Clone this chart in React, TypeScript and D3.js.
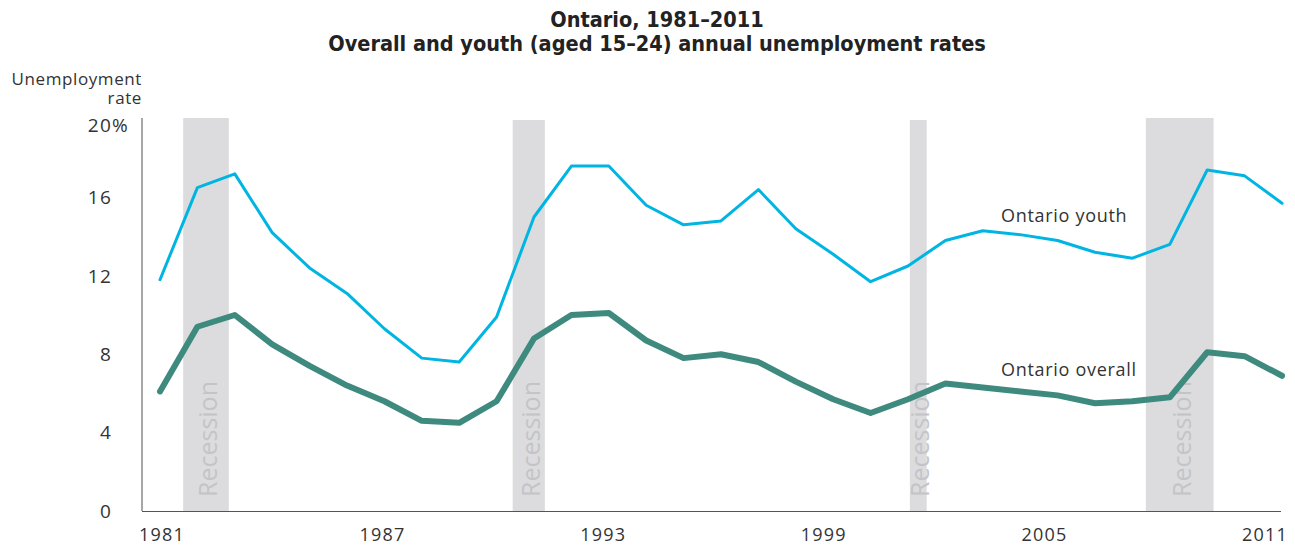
import React from "react";
import * as d3 from "d3";

const years = d3.range(1981, 2012);
const youthRates = [11.8, 16.5, 17.2, 14.2, 12.4, 11.1, 9.3, 7.8, 7.6, 9.9, 15.0, 17.6, 17.6, 15.6, 14.6, 14.8, 16.4, 14.4, 13.1, 11.7, 12.5, 13.8, 14.3, 14.1, 13.8, 13.2, 12.9, 13.6, 17.4, 17.1, 15.7];
const overallRates = [6.1, 9.4, 10.0, 8.5, 7.4, 6.4, 5.6, 4.6, 4.5, 5.6, 8.8, 10.0, 10.1, 8.7, 7.8, 8.0, 7.6, 6.6, 5.7, 5.0, 5.7, 6.5, 6.3, 6.1, 5.9, 5.5, 5.6, 5.8, 8.1, 7.9, 6.9];
const recessionStarts = [1981.62, 1990.43, 2001.05, 2007.36];
const recessionEnds = [1982.84, 1991.29, 2001.5, 2009.17];
const yTicks = [0, 4, 8, 12, 16, 20];
const xTicks = [1981, 1987, 1993, 1999, 2005, 2011];
const titleLines = ["Ontario, 1981–2011", "Overall and youth (aged 15–24) annual unemployment rates"];

const W = 1295;
const H = 546;
const FONT = "'Open Sans', 'Liberation Sans', sans-serif";
const TITLE_FONT = "'DejaVu Sans Condensed', 'DejaVu Sans', sans-serif";

export default function App() {
  const x = d3.scaleLinear().domain([1981, 2011]).range([160, 1282]);
  const xLabel = d3.scaleLinear().domain([1981, 2011]).range([162, 1265]);
  const y = d3.scaleLinear().domain([0, 20]).range([511, 119]);
  const line = d3
    .line<number>()
    .x((_, i) => x(years[i]))
    .y((d) => y(d));

  return (
    <div style={{ position: "absolute", left: 0, top: 0 }}>
      <svg width={W} height={H} style={{ display: "block", background: "#fff" }}>
        {/* title */}
        {titleLines.map((t, i) => (
          <text
            key={t}
            x={657}
            y={27 + i * 24}
            textAnchor="middle"
            fontFamily={TITLE_FONT}
            fontWeight={700}
            fontSize={21.5}
            fill="#222"
          >
            {t}
          </text>
        ))}
        {/* y axis title */}
        <text x={142} y={85} textAnchor="end" fontFamily={FONT} fontSize={17} letterSpacing={0.6} fill="#333">
          Unemployment
        </text>
        <text x={142} y={104} textAnchor="end" fontFamily={FONT} fontSize={17} letterSpacing={0.6} fill="#333">
          rate
        </text>

        {/* recession bands */}
        {recessionStarts.map((s, i) => {
          const x0 = x(s);
          const x1 = x(recessionEnds[i]);
          const cx = (x0 + x1) / 2;
          const top = i === 0 || i === 3 ? 118 : 120;
          return (
            <g key={s}>
              <rect x={x0} y={top} width={x1 - x0} height={y(0) - top} fill="#dcdcde" />
              <text
                transform={`translate(${cx + 1},${497}) rotate(-90)`}
                dominantBaseline="central"
                fontFamily={FONT}
                fontSize={25}
                fill="#c4c4c8"
              >
                Recession
              </text>
            </g>
          );
        })}

        {/* axes */}
        <line x1={142} x2={142} y1={118} y2={511} stroke="#8a8a8a" strokeWidth={1.5} />
        <line x1={142} x2={1281} y1={511.5} y2={511.5} stroke="#555" strokeWidth={1.2} />

        {/* y tick labels */}
        {yTicks.map((t) => (
          <g key={t}>
            <text x={112} y={y(t) + (t === 20 ? 6 : 0)} dy="0.36em" textAnchor="end" fontFamily={FONT} fontSize={19} letterSpacing={1.2} fill="#333">
              {t}
            </text>
            {t === 20 && (
              <text x={112} y={y(t) + 6} dy="0.36em" textAnchor="start" fontFamily={FONT} fontSize={19} fill="#333">
                %
              </text>
            )}
          </g>
        ))}
        {/* x tick labels */}
        {xTicks.map((t) => (
          <text key={t} x={xLabel(t)} y={541} textAnchor="middle" fontFamily={FONT} fontSize={18} letterSpacing={1.2} fill="#333">
            {t}
          </text>
        ))}

        {/* lines */}
        <path d={line(youthRates) || ""} fill="none" stroke="#00b5e2" strokeWidth={3} strokeLinejoin="round" strokeLinecap="round" />
        <path d={line(overallRates) || ""} fill="none" stroke="#3f8a7e" strokeWidth={6} strokeLinejoin="round" strokeLinecap="round" />

        {/* series labels */}
        <text x={1001} y={222} fontFamily={FONT} fontSize={18} letterSpacing={0.7} fill="#333">
          Ontario youth
        </text>
        <text x={1001} y={376} fontFamily={FONT} fontSize={18} letterSpacing={0.7} fill="#333">
          Ontario overall
        </text>
      </svg>
    </div>
  );
}
